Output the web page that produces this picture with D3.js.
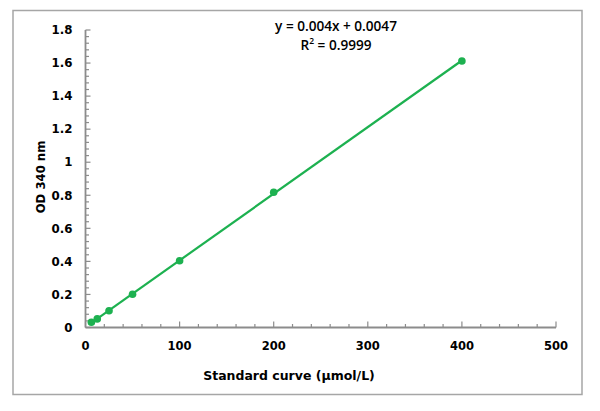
<!DOCTYPE html>
<html>
<head>
<meta charset="utf-8">
<script src="https://cdn.jsdelivr.net/npm/d3@7"></script>
<style>
    body { margin: 0; background: #fff; }
    svg { display: block; }
</style>
</head>
<body>
<svg id="chart" width="600" height="411"></svg>
<script>
// standard concentrations (µmol/L) and measured OD at 340 nm
const concentrations = [6.25, 12.5, 25, 50, 100, 200, 400];
const odValues = [0.032, 0.052, 0.101, 0.201, 0.404, 0.818, 1.612];

const xTicks = [0, 100, 200, 300, 400, 500];
const yTicks = [0, 0.2, 0.4, 0.6, 0.8, 1, 1.2, 1.4, 1.6, 1.8];
const yTickLabels = ['0', '0.2', '0.4', '0.6', '0.8', '1', '1.2', '1.4', '1.6', '1.8'];

const equationText = 'y = 0.004x + 0.0047';
const r2Value = '0.9999';

const svg = d3.select('#chart');
const green = '#1db150',
    axisGrey = '#8c8c8c',
    labelFont = '"DejaVu Sans", Verdana, sans-serif';

// outer frame
svg.append('rect')
    .attr('x', 13)
    .attr('y', 10.5)
    .attr('width', 569)
    .attr('height', 384)
    .attr('fill', 'none')
    .attr('stroke', '#a6a6a6')
    .attr('stroke-width', 1.5);

const x = d3.scaleLinear().domain([0, 500]).range([85.5, 556]);
const y = d3.scaleLinear().domain([0, 1.8]).range([327.5, 30]);

// minor ticks (Excel default: major / 5)
const xMinor = d3.range(0, 501, 20);
const yMinor = d3.range(0, 1.8001, 0.04);

const gx = svg.append('g').attr('transform', `translate(0,${y(0)})`);
gx.selectAll('line.minor')
    .data(xMinor)
    .join('line')
    .attr('class', 'minor')
    .attr('x1', d => x(d))
    .attr('x2', d => x(d))
    .attr('y1', 0)
    .attr('y2', d => xTicks.includes(d) ? -6 : -3.5)
    .attr('stroke', axisGrey)
    .attr('stroke-width', 1.2);
gx.append('line')
    .attr('x1', x(0))
    .attr('x2', x(500))
    .attr('stroke', axisGrey)
    .attr('stroke-width', 1.8);
gx.selectAll('text')
    .data(xTicks)
    .join('text')
    .attr('x', d => x(d))
    .attr('y', 22.5)
    .attr('text-anchor', 'middle')
    .attr('font-family', labelFont)
    .attr('font-weight', 'bold')
    .attr('font-size', 11.5)
    .text(d => d);

const gy = svg.append('g').attr('transform', `translate(${x(0)},0)`);
gy.selectAll('line.minor')
    .data(yMinor)
    .join('line')
    .attr('class', 'minor')
    .attr('y1', d => y(d))
    .attr('y2', d => y(d))
    .attr('x1', 0)
    .attr('x2', (d, i) => i % 5 === 0 ? 5 : 3.5)
    .attr('stroke', axisGrey)
    .attr('stroke-width', 1.2);
gy.append('line')
    .attr('y1', y(0))
    .attr('y2', y(1.8))
    .attr('stroke', axisGrey)
    .attr('stroke-width', 1.8);
gy.selectAll('text')
    .data(yTicks)
    .join('text')
    .attr('x', -13)
    .attr('y', d => y(d))
    .attr('dy', '0.36em')
    .attr('text-anchor', 'end')
    .attr('font-family', labelFont)
    .attr('font-weight', 'bold')
    .attr('font-size', 11.8)
    .text((d, i) => yTickLabels[i]);

// axis titles
svg.append('text')
    .attr('x', 289)
    .attr('y', 379.5)
    .attr('text-anchor', 'middle')
    .attr('font-family', labelFont)
    .attr('font-weight', 'bold')
    .attr('font-size', 12.5)
    .text('Standard curve (μmol/L)');

svg.append('text')
    .attr('transform', 'translate(45,177) rotate(-90)')
    .attr('text-anchor', 'middle')
    .attr('font-family', labelFont)
    .attr('font-weight', 'bold')
    .attr('font-size', 11.7)
    .text('OD 340 nm');

// least squares trendline over the data range
const mx = d3.mean(concentrations),
    my = d3.mean(odValues);
const slope = d3.sum(concentrations, (c, i) => (c - mx) * (odValues[i] - my)) /
    d3.sum(concentrations, c => (c - mx) ** 2);
const intercept = my - slope * mx;
const xExtent = d3.extent(concentrations);

svg.append('line')
    .attr('x1', x(xExtent[0]))
    .attr('y1', y(slope * xExtent[0] + intercept))
    .attr('x2', x(xExtent[1]))
    .attr('y2', y(slope * xExtent[1] + intercept))
    .attr('stroke', green)
    .attr('stroke-width', 2.2);

svg.selectAll('circle')
    .data(concentrations)
    .join('circle')
    .attr('cx', d => x(d))
    .attr('cy', (d, i) => y(odValues[i]))
    .attr('r', 3.8)
    .attr('fill', green);

// trendline label
const eqFont = '"Open Sans", "Noto Sans", sans-serif';
svg.append('text')
    .attr('x', 336)
    .attr('y', 31)
    .attr('text-anchor', 'middle')
    .attr('font-family', eqFont)
    .attr('font-weight', 600)
    .attr('font-size', 13.6)
    .text(equationText);

const r2 = svg.append('text')
    .attr('x', 336)
    .attr('y', 49.5)
    .attr('text-anchor', 'middle')
    .attr('font-family', eqFont)
    .attr('font-weight', 600)
    .attr('font-size', 13.6);
r2.append('tspan').text('R');
r2.append('tspan').attr('dy', -5.5).attr('font-size', 8.5).text('2');
r2.append('tspan').attr('dy', 5.5).text(` = ${r2Value}`);
</script>
</body>
</html>
